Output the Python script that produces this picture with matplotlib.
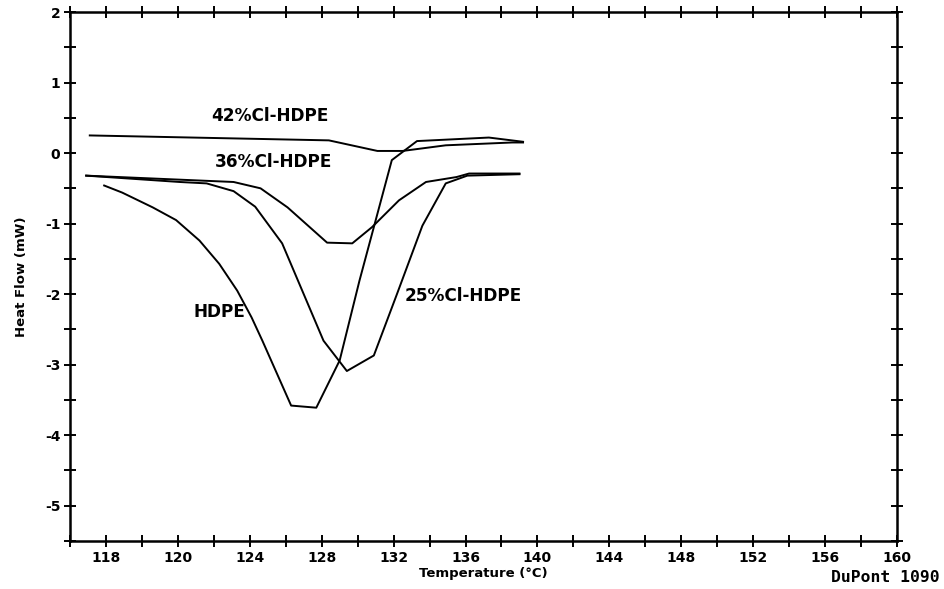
import matplotlib
matplotlib.use("Agg")
import matplotlib.pyplot as plt
import numpy as np

plt.rcParams["axes.unicode_minus"] = False

# HDPE
hdpe_t = [115.9, 116.9, 118.6, 119.9, 121.2, 122.3, 123.3, 124.1, 124.7, 126.3, 127.7, 129.0, 130.1, 131.9, 133.3, 137.3, 139.2]
hdpe_q = [-0.46, -0.56, -0.77, -0.95, -1.24, -1.57, -1.95, -2.33, -2.66, -3.58, -3.61, -2.94, -1.81, -0.10, 0.17, 0.22, 0.16]

# 25% Cl-HDPE
c25_t = [114.9, 120.1, 121.6, 123.1, 124.3, 125.8, 128.1, 129.4, 130.9, 132.2, 133.6, 134.9, 136.1, 139.0]
c25_q = [-0.32, -0.41, -0.43, -0.54, -0.76, -1.28, -2.66, -3.09, -2.87, -1.99, -1.03, -0.43, -0.32, -0.30]

# 36% Cl-HDPE
c36_t = [114.9, 123.1, 124.6, 126.1, 128.3, 129.7, 130.8, 132.3, 133.8, 135.5, 136.2, 139.0]
c36_q = [-0.32, -0.41, -0.50, -0.77, -1.27, -1.28, -1.05, -0.67, -0.41, -0.34, -0.29, -0.29]

# 42% Cl-HDPE
c42_t = [115.1, 128.4, 131.1, 132.5, 134.9, 138.6, 139.2]
c42_q = [0.25, 0.18, 0.03, 0.03, 0.11, 0.15, 0.15]

xtick_pos = [116, 120, 124, 128, 132, 136, 140, 144, 148, 152, 156, 160]
xtick_lab = ["118", "120", "124", "128", "132", "136", "140", "144", "148", "152", "156", "160"]

fig = plt.figure(figsize=(9.45, 5.89), dpi=100)
ax = fig.add_axes([70 / 945, 1 - 541 / 589, 827 / 945, 529 / 589])

for t, q in [(hdpe_t, hdpe_q), (c25_t, c25_q), (c36_t, c36_q), (c42_t, c42_q)]:
    ax.plot(t, q, color="black", lw=1.4)

ax.set_xlim(114, 160)
ax.set_ylim(-5.5, 2)
ax.set_xticks(xtick_pos)
ax.set_xticklabels(xtick_lab)
ax.set_xticks(np.arange(114, 161, 2), minor=True)
ax.set_yticks(np.arange(-5, 3, 1))
ax.set_yticks(np.arange(-5.5, 2.1, 0.5), minor=True)

for s in ax.spines.values():
    s.set_linewidth(1.8)
ax.tick_params(which="both", direction="inout", length=8, width=1.4,
               top=True, right=True, labelsize=10, pad=3)
for lab in ax.get_xticklabels() + ax.get_yticklabels():
    lab.set_fontweight("bold")

ax.set_xlabel("Temperature (°C)", fontsize=9.5, fontweight="bold", labelpad=2)
ax.set_ylabel("Heat Flow (mW)", fontsize=9.5, fontweight="bold", labelpad=12)

lab_kw = dict(fontsize=12.2, fontweight="bold", ha="center", va="center")
ax.text(125.1, 0.53, "42%Cl-HDPE", **lab_kw)
ax.text(125.3, -0.12, "36%Cl-HDPE", **lab_kw)
ax.text(135.9, -2.02, "25%Cl-HDPE", **lab_kw)
ax.text(122.3, -2.25, "HDPE", **lab_kw)

fig.text(0.994, 0.02, "DuPont 1090", ha="right", va="center", fontsize=11.8,
         fontweight="bold", family="DejaVu Sans Mono")

fig.savefig("out.png", dpi=100)
